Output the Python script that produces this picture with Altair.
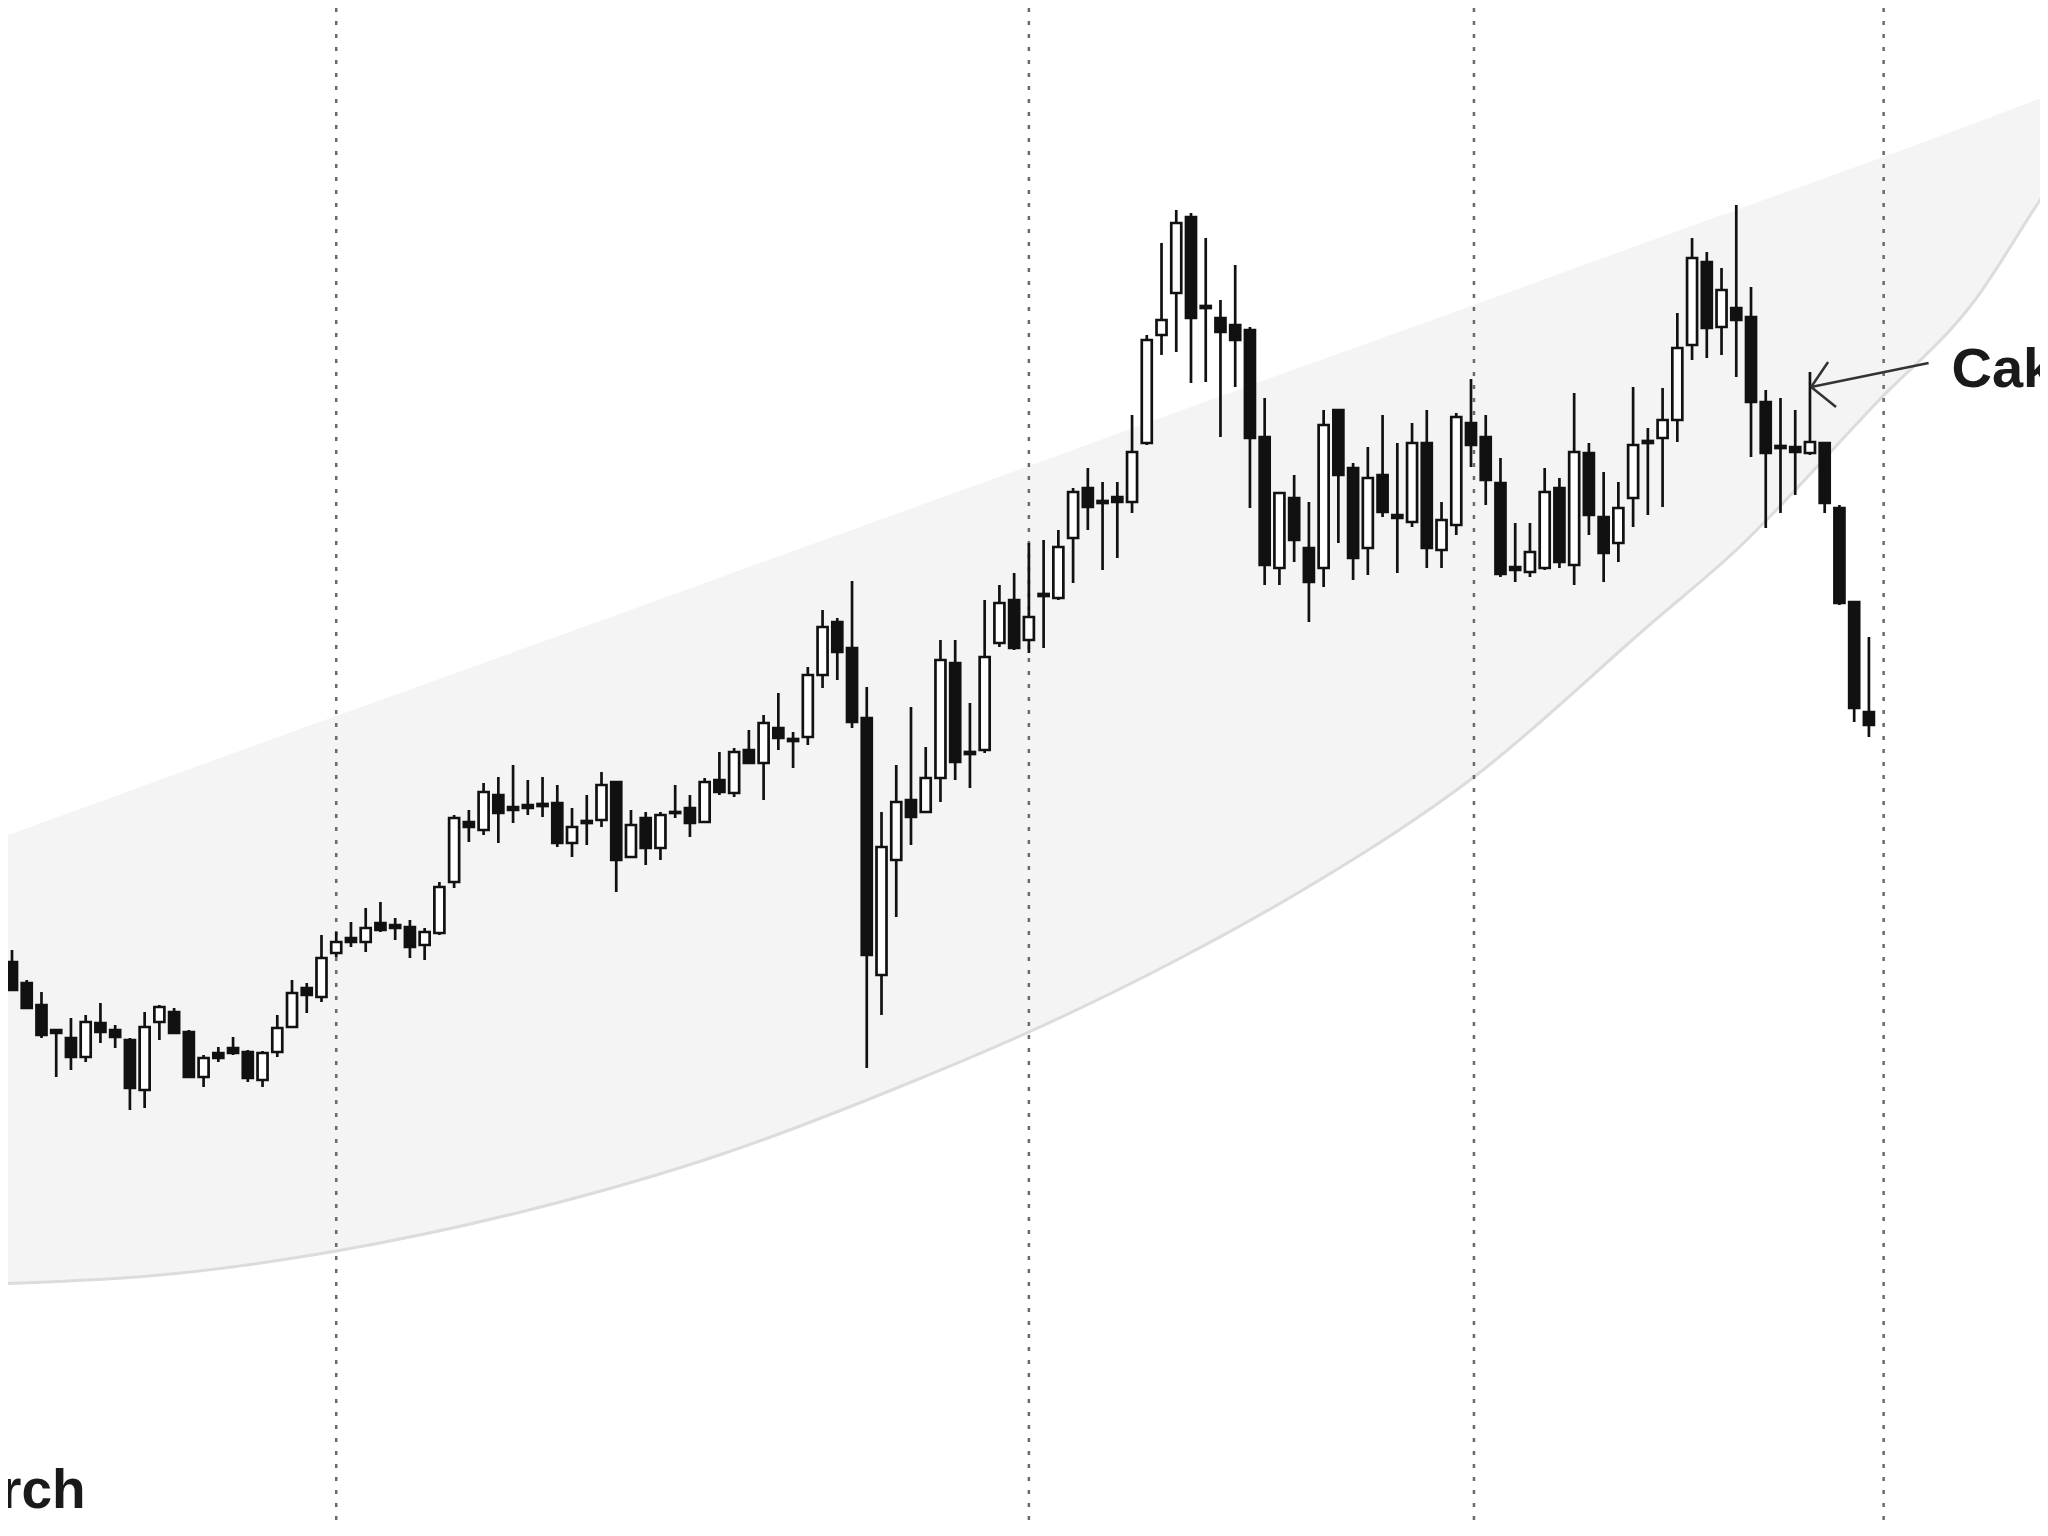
import altair as alt
import numpy as np
import pandas as pd

# OHLC values (arbitrary price units), one per trading day
opens = [638, 617, 595, 570, 562, 543, 577, 570, 560, 510, 578, 588, 568, 523, 547, 552, 548, 520, 548, 573,
         612, 603, 647, 662, 658, 677, 675, 673, 655, 667, 718, 778, 770, 805, 793, 795, 796, 797, 757, 779,
         780, 818, 743, 782, 752, 788, 792, 778, 820, 807, 850, 837, 872, 861, 863, 925, 978, 952, 882, 625,
         740, 800, 788, 822, 937, 848, 850, 957, 1000, 960, 1006, 1002, 1062, 1112, 1099, 1103, 1098, 1157, 1265, 1307,
         1383, 1294, 1282, 1275, 1270, 1163, 1032, 1102, 1052, 1032, 1190, 1132, 1052, 1125, 1085, 1078, 1157, 1050, 1075, 1177,
         1163, 1117, 1033, 1028, 1032, 1112, 1035, 1147, 1083, 1057, 1102, 1159, 1162, 1180, 1255, 1338, 1273, 1292, 1283, 1198,
         1154, 1153, 1147, 1157, 1092, 998, 888]
highs = [650, 620, 608, 571, 582, 585, 597, 575, 562, 588, 595, 592, 570, 545, 553, 563, 550, 549, 585, 620,
         617, 665, 668, 678, 692, 698, 682, 680, 672, 718, 785, 790, 817, 823, 835, 820, 823, 815, 792, 805,
         828, 818, 790, 788, 788, 815, 805, 822, 848, 852, 870, 885, 907, 868, 933, 990, 982, 1019, 913, 788,
         835, 893, 853, 960, 960, 897, 1000, 1015, 1027, 1057, 1060, 1070, 1112, 1132, 1118, 1118, 1185, 1265, 1357, 1390,
         1387, 1362, 1300, 1335, 1273, 1202, 1108, 1125, 1098, 1190, 1190, 1137, 1153, 1185, 1157, 1177, 1190, 1098, 1187, 1221,
         1185, 1142, 1077, 1077, 1132, 1122, 1207, 1157, 1128, 1118, 1213, 1172, 1212, 1287, 1362, 1348, 1332, 1395, 1313, 1210,
         1202, 1190, 1228, 1157, 1095, 998, 963]
lows = [610, 592, 562, 523, 530, 538, 557, 552, 490, 492, 560, 567, 523, 513, 538, 545, 518, 513, 543, 572,
        587, 598, 643, 653, 648, 668, 660, 642, 640, 665, 712, 758, 765, 757, 777, 785, 783, 753, 743, 755,
        773, 708, 743, 735, 740, 782, 763, 778, 805, 803, 837, 800, 850, 832, 855, 912, 920, 872, 532, 585,
        683, 755, 787, 798, 820, 812, 847, 953, 950, 947, 952, 1000, 1017, 1070, 1030, 1042, 1087, 1155, 1245, 1248,
        1217, 1218, 1163, 1213, 1092, 1015, 1015, 1038, 978, 1013, 1057, 1020, 1025, 1083, 1027, 1073, 1032, 1032, 1065, 1133,
        1095, 1023, 1018, 1023, 1030, 1032, 1015, 1065, 1018, 1038, 1073, 1085, 1093, 1158, 1240, 1242, 1245, 1223, 1143, 1072,
        1087, 1105, 1145, 1087, 995, 878, 863]
closes = [610, 592, 565, 567, 543, 578, 568, 563, 512, 573, 593, 567, 523, 542, 542, 547, 522, 547, 572, 607,
          605, 642, 658, 658, 672, 670, 672, 653, 668, 713, 782, 773, 808, 787, 790, 792, 794, 757, 773, 777,
          815, 740, 775, 752, 785, 787, 777, 818, 808, 848, 837, 877, 862, 859, 925, 973, 948, 878, 645, 753,
          798, 783, 822, 940, 838, 846, 943, 997, 952, 983, 1004, 1053, 1108, 1093, 1097, 1098, 1148, 1260, 1280, 1377,
          1282, 1292, 1268, 1260, 1162, 1035, 1107, 1060, 1018, 1175, 1125, 1042, 1122, 1088, 1082, 1157, 1052, 1080, 1183, 1155,
          1120, 1026, 1030, 1048, 1108, 1038, 1148, 1085, 1047, 1092, 1155, 1157, 1180, 1252, 1342, 1272, 1310, 1280, 1198, 1147,
          1152, 1148, 1158, 1097, 997, 892, 875]

# month separators (trading-day index)
month_marks = [22, 69, 99.2, 127]

# channel band: lower edge and upper edge (trading-day index, price)
low_x = [-1, 10.8, 22, 34.8, 48, 61.2, 69, 78.9, 87.7, 99.2, 111.1, 117, 126.5, 133.2, 137.8, 139.5]
low_y = [316, 326, 349, 389, 445, 519, 568, 639, 711, 823, 975, 1050, 1197, 1300, 1404, 1440]
high_x = [-1, 10, 22, 35, 50, 69, 85, 99, 110, 120, 130, 139.5]
high_y = [761, 820, 884, 953, 1033, 1134, 1220, 1294, 1353, 1406, 1459, 1512]

# annotations
label_text = ["March", "Cake"]
label_x = [5.0, 131.6]
label_y = [92, 1213]
label_align = ["right", "left"]
arrow_x = [130.05, 122.08, 122.08]
arrow_x2 = [122.08, 123.23, 123.77]
arrow_y = [1237, 1213, 1213]
arrow_y2 = [1213, 1238, 1193]

W, H = 2032, 1520
xs = alt.Scale(domain=[0.0675, 137.27], nice=False, zero=False)
ys = alt.Scale(domain=[72, 1592], nice=False, zero=False)

df = pd.DataFrame({"i": list(range(len(opens))), "open": opens, "high": highs,
                   "low": lows, "close": closes})
df["dir"] = ["up" if c > o else "down" for o, c in zip(opens, closes)]

band = pd.DataFrame({"x": low_x, "lo": low_y, "hi": np.interp(low_x, high_x, high_y)})
lower = pd.DataFrame({"x": low_x, "lo": low_y})
months = pd.DataFrame({"m": month_marks})
labels = pd.DataFrame({"t": label_text, "x": label_x, "y": label_y, "a": label_align})
arrow = pd.DataFrame({"x": arrow_x, "x2": arrow_x2, "y": arrow_y, "y2": arrow_y2})

area = alt.Chart(band).mark_area(color="#f4f4f4", interpolate="monotone", clip=True).encode(
    x=alt.X("x:Q", scale=xs, axis=None), y=alt.Y("lo:Q", scale=ys, axis=None), y2="hi:Q")
edge = alt.Chart(lower).mark_line(color="#dcdcdc", strokeWidth=3, interpolate="monotone", clip=True).encode(
    x=alt.X("x:Q", scale=xs, axis=None), y=alt.Y("lo:Q", scale=ys, axis=None))
vlines = alt.Chart(months).mark_rule(color="#6a6a6a", strokeWidth=2.5, strokeDash=[4, 9]).encode(
    x=alt.X("m:Q", scale=xs, axis=None))
wicks = alt.Chart(df).mark_rule(color="#111111", strokeWidth=2.7).encode(
    x=alt.X("i:Q", scale=xs, axis=None), y=alt.Y("low:Q", scale=ys, axis=None), y2="high:Q")
bodies = alt.Chart(df).mark_bar(size=10, stroke="#111111", strokeWidth=2.7).encode(
    x=alt.X("i:Q", scale=xs, axis=None), y=alt.Y("open:Q", scale=ys, axis=None), y2="close:Q",
    fill=alt.Fill("dir:N", scale=alt.Scale(domain=["up", "down"], range=["#ffffff", "#111111"]), legend=None))
arrows = alt.Chart(arrow).mark_rule(color="#333333", strokeWidth=2.5).encode(
    x=alt.X("x:Q", scale=xs, axis=None), x2="x2:Q", y=alt.Y("y:Q", scale=ys, axis=None), y2="y2:Q")
txt_r = alt.Chart(labels[labels.a == "right"]).mark_text(
    align="right", baseline="alphabetic", font="Liberation Sans", fontSize=55,
    fontWeight="bold", color="#1a1a1a").encode(
    x=alt.X("x:Q", scale=xs, axis=None), y=alt.Y("y:Q", scale=ys, axis=None), text="t:N")
txt_l = alt.Chart(labels[labels.a == "left"]).mark_text(
    align="left", baseline="alphabetic", font="Liberation Sans", fontSize=56,
    fontWeight="bold", color="#1a1a1a").encode(
    x=alt.X("x:Q", scale=xs, axis=None), y=alt.Y("y:Q", scale=ys, axis=None), text="t:N")

chart = alt.layer(area, edge, vlines, wicks, bodies, arrows, txt_r, txt_l).properties(
    width=W, height=H, padding=0, autosize=alt.AutoSizeParams(type="none"), background="white"
).configure_view(stroke=None)

chart.save("out.html", embed_options={"renderer": "svg", "actions": False})
